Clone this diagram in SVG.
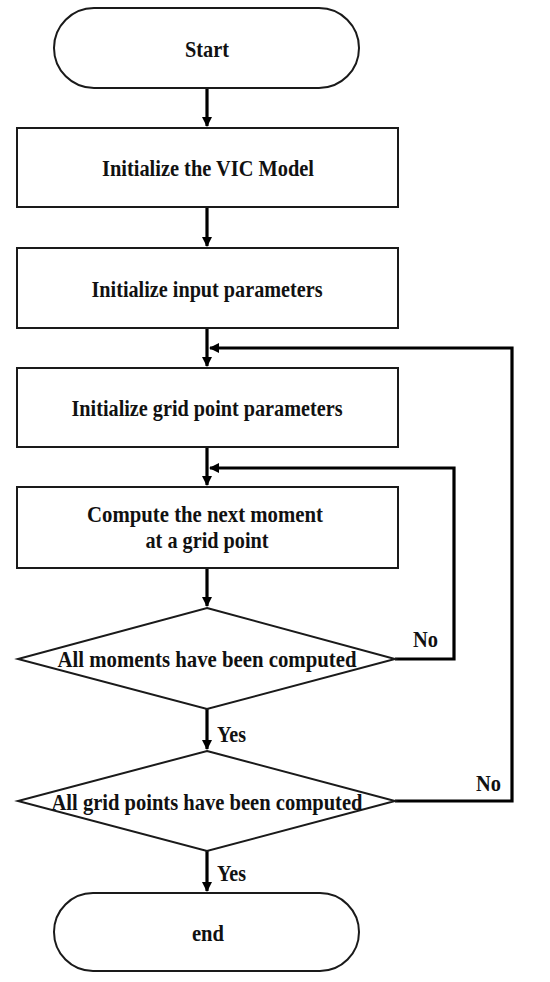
<svg xmlns="http://www.w3.org/2000/svg" width="550" height="982" viewBox="0 0 550 982">
<style>
.n{fill:#fff;stroke:#1a1a1a;stroke-width:2}
.t{font-family:"Liberation Serif","Times New Roman",serif;font-weight:bold;font-size:24px;fill:#111;text-anchor:middle}
.l{font-family:"Liberation Serif","Times New Roman",serif;font-weight:bold;font-size:24px;fill:#111}
.c{fill:none;stroke:#000;stroke-width:3.2}
</style>
<defs>
<marker id="a" markerWidth="10" markerHeight="10" refX="9" refY="5" orient="auto" markerUnits="userSpaceOnUse" viewBox="0 0 10 10">
<path d="M0,0 L10,5 L0,10 Z" fill="#000"/>
</marker>
</defs>
<rect width="550" height="982" fill="#fff"/>
<g id="connectors">
<path class="c" d="M207,88 V126" marker-end="url(#a)"/>
<path class="c" d="M207,207 V246" marker-end="url(#a)"/>
<path class="c" d="M207,328 V366" marker-end="url(#a)"/>
<path class="c" d="M207,447 V485" marker-end="url(#a)"/>
<path class="c" d="M207,568 V606" marker-end="url(#a)"/>
<path class="c" d="M207,709 V749" marker-end="url(#a)"/>
<path class="c" d="M207,851 V891" marker-end="url(#a)"/>
<path class="c" d="M395,659 H454 V468 H210" marker-end="url(#a)"/>
<path class="c" d="M395,801 H512 V348 H210" marker-end="url(#a)"/>
<text class="l" x="217" y="742" textLength="29" lengthAdjust="spacingAndGlyphs">Yes</text>
<text class="l" x="217" y="881" textLength="29" lengthAdjust="spacingAndGlyphs">Yes</text>
<text class="l" x="413" y="647" textLength="25" lengthAdjust="spacingAndGlyphs">No</text>
<text class="l" x="476" y="791" textLength="25" lengthAdjust="spacingAndGlyphs">No</text>
</g>
<g id="start">
<rect class="n" x="54" y="8" width="305" height="80" rx="40" ry="40"/>
<text class="t" x="207" y="57" textLength="44" lengthAdjust="spacingAndGlyphs">Start</text>
</g>
<g id="init-vic">
<rect class="n" x="17" y="128" width="381" height="79"/>
<text class="t" x="208" y="176" textLength="212" lengthAdjust="spacingAndGlyphs">Initialize the VIC Model</text>
</g>
<g id="init-input">
<rect class="n" x="17" y="248" width="381" height="80"/>
<text class="t" x="207" y="297" textLength="231" lengthAdjust="spacingAndGlyphs">Initialize input parameters</text>
</g>
<g id="init-grid">
<rect class="n" x="17" y="368" width="381" height="79"/>
<text class="t" x="207" y="416" textLength="271" lengthAdjust="spacingAndGlyphs">Initialize grid point parameters</text>
</g>
<g id="compute">
<rect class="n" x="17" y="487" width="381" height="81"/>
<text class="t" x="205" y="522" textLength="236" lengthAdjust="spacingAndGlyphs">Compute the next moment</text>
<text class="t" x="207" y="548" textLength="123" lengthAdjust="spacingAndGlyphs">at a grid point</text>
</g>
<g id="moments-done">
<polygon class="n" points="207,608 395,659 207,709 18,659"/>
<text class="t" x="207" y="667" textLength="299" lengthAdjust="spacingAndGlyphs">All moments have been computed</text>
</g>
<g id="grid-done">
<polygon class="n" points="207,751 395,801 207,851 18,801"/>
<text class="t" x="207" y="810" textLength="311" lengthAdjust="spacingAndGlyphs">All grid points have been computed</text>
</g>
<g id="end">
<rect class="n" x="54" y="893" width="305" height="78" rx="39" ry="39"/>
<text class="t" x="208" y="941" textLength="32" lengthAdjust="spacingAndGlyphs">end</text>
</g>
</svg>
